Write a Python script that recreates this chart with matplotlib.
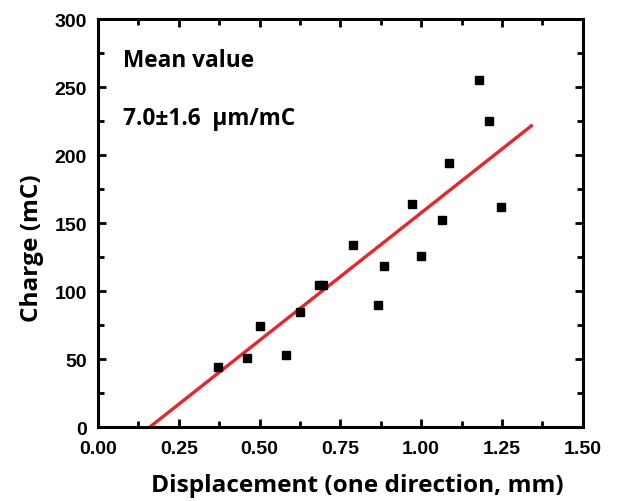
import matplotlib
matplotlib.use("Agg")
import matplotlib.pyplot as plt
import numpy as np
from matplotlib.ticker import MultipleLocator

displacement = [0.370, 0.461, 0.502, 0.582, 0.626, 0.685, 0.695, 0.790, 0.867, 0.885,
                0.971, 1.000, 1.065, 1.086, 1.180, 1.209, 1.247]
charge = [44.3, 50.7, 74.0, 53.2, 84.3, 104.4, 104.4, 134.1, 89.7, 118.4,
          164.2, 125.5, 152.5, 194.1, 254.9, 224.8, 161.5]

fit_slope = 187.7
fit_intercept = -30.2
fit_range = [0.161, 1.341]

xticks = [0.00, 0.25, 0.50, 0.75, 1.00, 1.25, 1.50]
yticks = [0, 50, 100, 150, 200, 250, 300]

fig = plt.figure(figsize=(6.44, 5.02), dpi=100)
ax = fig.add_axes([0.152, 0.1474, 0.753, 0.8126])

fx = np.linspace(fit_range[0], fit_range[1], 50)
ax.plot(fx, fit_slope * fx + fit_intercept, color="#ee2229", lw=2.4, zorder=2)
ax.plot(displacement, charge, "s", color="black", ms=5.8, zorder=3, clip_on=False)

ax.set_xlim(0, 1.5)
ax.set_ylim(0, 300)
ax.set_xticks(xticks)
ax.set_yticks(yticks)
ax.set_xticklabels([f"{v:.2f}" for v in xticks])
ax.set_yticklabels([str(v) for v in yticks])
ax.xaxis.set_minor_locator(MultipleLocator(0.125))
ax.yaxis.set_minor_locator(MultipleLocator(25))
ax.tick_params(which="both", direction="in", top=True, right=True, width=2)
ax.tick_params(which="major", length=6)
ax.tick_params(which="minor", length=4)
for lab in ax.get_xticklabels() + ax.get_yticklabels():
    lab.set_family("Liberation Sans")
    lab.set_fontsize(14)
    lab.set_fontweight("bold")
ax.tick_params(axis="x", pad=9)
ax.tick_params(axis="y", pad=8)
for s in ax.spines.values():
    s.set_linewidth(2.2)

lab_font = dict(family="Open Sans", fontsize=17.6, fontweight="bold")
ax.set_xlabel("Displacement (one direction, mm)", **lab_font)
ax.set_ylabel("Charge (mC)", **lab_font)
ax.xaxis.set_label_coords(0.536, -0.112)
ax.yaxis.set_label_coords(-0.111, 0.442)

txt_font = dict(family="Open Sans", fontsize=16.3, fontweight="bold")
ax.text(0.051, 0.885, "Mean value", transform=ax.transAxes, ha="left",
        va="baseline", **txt_font)
ax.text(0.051, 0.742, "7.0\u00b11.6  \u00b5m/mC", transform=ax.transAxes, ha="left",
        va="baseline", **txt_font)

fig.savefig("out.png", dpi=100)
